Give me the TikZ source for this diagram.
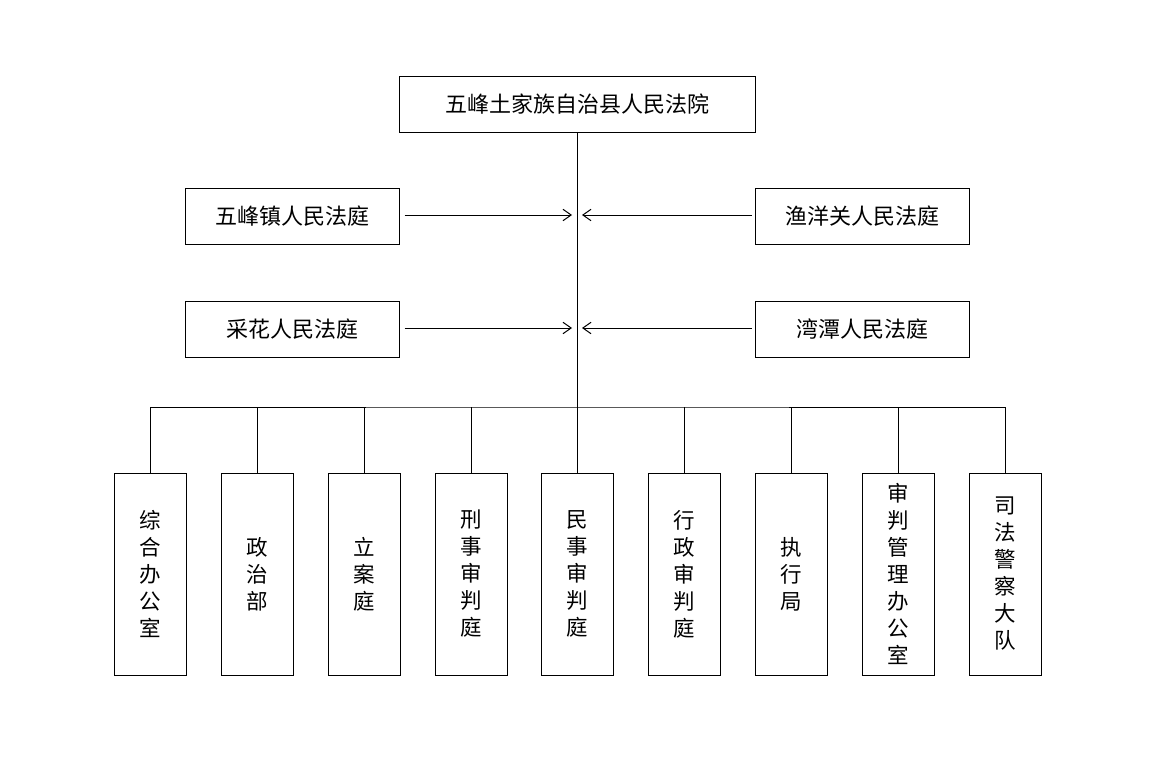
\documentclass[tikz,border=0pt]{standalone}
\usepackage{fontspec}
\newfontfamily\cjk{Noto Sans CJK SC}
\usetikzlibrary{arrows.meta}
\tikzset{
  box/.style={draw, line width=1pt, minimum width=#1, minimum height=56pt, inner sep=0pt, font=\cjk\fontsize{22}{27}\selectfont},
  vbox/.style={draw, line width=1pt, minimum width=72pt, minimum height=202pt, inner sep=0pt, align=center, font=\cjk\fontsize{21.5}{27}\selectfont},
  conn/.style={line width=1pt},
  arr/.style={line width=1pt, -{Straight Barb[angle=70:9pt 1]}}
}
\begin{document}
\begin{tikzpicture}[x=1pt,y=-1pt]
\useasboundingbox[fill=white] (0,0) rectangle (1152,779);
\node[box=356pt] (top) at (577,104.5) {五峰土家族自治县人民法院};
\node[box=214pt] (l1) at (292,216) {五峰镇人民法庭};
\node[box=214pt] (l2) at (292,329) {采花人民法庭};
\node[box=214pt] (r1) at (862,216) {渔洋关人民法庭};
\node[box=214pt] (r2) at (862,329) {湾潭人民法庭};
\coordinate (bus) at (577,407);
\coordinate (a1) at (572,215);
\coordinate (b1) at (582,215);
\coordinate (a2) at (572,328);
\coordinate (b2) at (582,328);
\node[vbox] (d1) at (150,574) {综\\合\\办\\公\\室};
\node[vbox] (d2) at (257,574) {政\\治\\部};
\node[vbox] (d3) at (364,574) {立\\案\\庭};
\node[vbox] (d4) at (471,574) {刑\\事\\审\\判\\庭};
\node[vbox] (d5) at (577,574) {民\\事\\审\\判\\庭};
\node[vbox] (d6) at (684,574) {行\\政\\审\\判\\庭};
\node[vbox] (d7) at (791,574) {执\\行\\局};
\node[vbox] (d8) at (898,574) {审\\判\\管\\理\\办\\公\\室};
\node[vbox] (d9) at (1005,574) {司\\法\\警\\察\\大\\队};
\draw[conn] (top.south) -- (bus);
\draw[conn] (d1.north) |- (bus) -| (d9.north);
\foreach \i in {2,...,8} \draw[conn] (d\i.north) -- (d\i.north |- bus);
\draw[arr] ([xshift=5pt]l1.east |- a1) -- (a1);
\draw[arr] ([xshift=5pt]l2.east |- a2) -- (a2);
\draw[arr] ([xshift=-3pt]r1.west |- b1) -- (b1);
\draw[arr] ([xshift=-3pt]r2.west |- b2) -- (b2);
\end{tikzpicture}
\end{document}
